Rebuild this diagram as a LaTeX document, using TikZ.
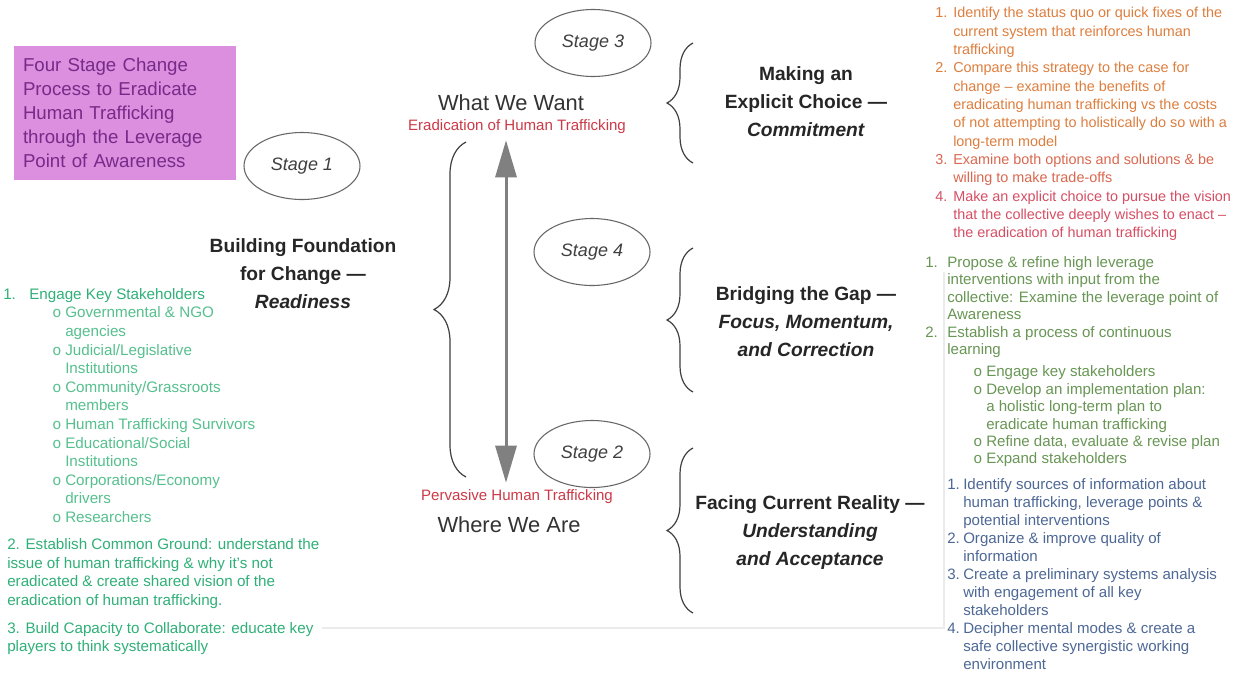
\documentclass[tikz,border=0pt]{standalone}
\usepackage{fontspec}
\setmainfont{Liberation Sans}
\newfontfamily\bulletfont{Liberation Mono}
\usetikzlibrary{shapes,arrows.meta,decorations.pathreplacing}
\definecolor{titlefill}{RGB}{219,143,222}
\definecolor{titletext}{RGB}{120,42,138}
\definecolor{headtext}{RGB}{38,38,38}
\definecolor{redlabel}{RGB}{204,58,72}
\definecolor{readygreen}{RGB}{48,176,120}
\definecolor{readysub}{RGB}{86,192,142}
\definecolor{commitorange}{RGB}{222,126,62}
\definecolor{commitred}{RGB}{214,78,100}
\definecolor{gapgreen}{RGB}{104,150,84}
\definecolor{realityblue}{RGB}{78,104,150}
\newcommand{\subbul}[1]{\hspace*{#1}\makebox[9.75pt][l]{\bulletfont o}}

\begin{document}
\begin{tikzpicture}[x=0.75pt,y=-0.75pt]
    \tikzstyle{titlebox} = [rectangle, fill=titlefill, text=titletext, minimum width=166.5pt, minimum height=100.5pt, text width=153pt, inner xsep=6.75pt, align=left, font=\fontsize{14}{18}\selectfont]
    \tikzstyle{stagebubble} = [ellipse, draw=black!60, line width=0.8pt, minimum width=87pt, minimum height=50.25pt, inner sep=0pt, text=black!75, font=\fontsize{13.5}{16}\itshape\selectfont]
    \tikzstyle{stagehead} = [align=center, text=headtext, font=\fontsize{14.4}{21}\bfseries\selectfont]
    \tikzstyle{poletext} = [text=black!80, inner sep=0pt, font=\fontsize{16.4}{20}\selectfont]
    \tikzstyle{poletag} = [text=redlabel, inner sep=0pt, font=\fontsize{11.3}{13}\selectfont]
    \tikzstyle{itemlist} = [anchor=north west, align=left, inner sep=0pt]
    \tikzstyle{updown} = [draw=black!50, line width=2.25pt, {Triangle[length=27.75pt,width=15.75pt]}-{Triangle[length=27.75pt,width=15.75pt]}, shorten <=5.25pt, shorten >=4.5pt]
    \tikzstyle{bigbrace} = [draw=black!75, line width=0.9pt, decorate, decoration={brace, amplitude=24pt}]
    \tikzstyle{smallbrace} = [draw=black!75, line width=0.9pt, decorate, decoration={brace, amplitude=19.5pt}]

    \fill[white] (0,0) rectangle (1234,689);
    \useasboundingbox (0,0) rectangle (1234,689);
    \draw[black!8, line width=0.8pt] (322,628) -- (944,628) -- (944,272);

    \node[titlebox] (title) at (125,113) {Four Stage Change\\Process to Eradicate\\Human Trafficking\\through the Leverage\\Point of Awareness};

    \node[stagebubble] (s1) at (302,166) {Stage 1};
    \node[stagebubble] (s3) at (593,43) {Stage 3};
    \node[stagebubble] (s4) at (592,252) {Stage 4};
    \node[stagebubble] (s2) at (592,454) {Stage 2};

    \node[stagehead] (readiness) at (303,274) {Building Foundation\\for Change —\\\textit{Readiness}};
    \node[stagehead] (commitment) at (806,102) {Making an\\Explicit Choice —\\\textit{Commitment}};
    \node[stagehead] (correction) at (806,322) {Bridging the Gap —\\\textit{Focus, Momentum,}\\\textit{and Correction}};
    \node[stagehead] (acceptance) at (810,533) {Facing Current Reality —\\\textit{Understanding}\\\textit{and Acceptance}};

    \node[poletext] (want) at (511,103) {What We Want};
    \node[poletag] (erad) at (517,127) {Eradication of Human Trafficking};
    \node[poletag] (perv) at (517,497) {Pervasive Human Trafficking};
    \node[poletext] (where) at (509,525) {Where We Are};

    \coordinate (axis) at (506,0);
    \draw[updown] (perv.north -| axis) -- (erad.south -| axis);

    \coordinate (b1low) at (466,477);
    \coordinate (b1high) at (466,142);
    \coordinate (b3low) at (693,163);
    \coordinate (b3high) at (693,43);
    \coordinate (b4low) at (693,392);
    \coordinate (b4high) at (693,248);
    \coordinate (b2low) at (693,613);
    \coordinate (b2high) at (693,448);
    \draw[bigbrace] (b1low) -- (b1high);
    \draw[smallbrace] (b3low) -- (b3high);
    \draw[smallbrace] (b4low) -- (b4high);
    \draw[smallbrace] (b2low) -- (b2high);

    \node[itemlist, text=readygreen, font=\fontsize{11.4}{13.95}\selectfont] (readylist) at (3,288) {%
        \makebox[19.5pt][l]{1.}Engage Key Stakeholders\\
        {\color{readysub}\subbul{36.75pt}Governmental \& NGO}\\
        {\color{readysub}\hspace*{46.5pt}agencies}\\
        {\color{readysub}\subbul{36.75pt}Judicial/Legislative}\\
        {\color{readysub}\hspace*{46.5pt}Institutions}\\
        {\color{readysub}\subbul{36.75pt}Community/Grassroots}\\
        {\color{readysub}\hspace*{46.5pt}members}\\
        {\color{readysub}\subbul{36.75pt}Human Trafficking Survivors}\\
        {\color{readysub}\subbul{36.75pt}Educational/Social}\\
        {\color{readysub}\hspace*{46.5pt}Institutions}\\
        {\color{readysub}\subbul{36.75pt}Corporations/Economy}\\
        {\color{readysub}\hspace*{46.5pt}drivers}\\
        {\color{readysub}\subbul{36.75pt}Researchers}\\[6.3pt]
        \hspace*{3pt}2. Establish Common Ground: understand the\\
        \hspace*{3pt}issue of human trafficking \& why it's not\\
        \hspace*{3pt}eradicated \& create shared vision of the\\
        \hspace*{3pt}eradication of human trafficking.\\[7pt]
        \hspace*{3pt}3. Build Capacity to Collaborate: educate key\\
        \hspace*{3pt}players to think systematically};

    \node[itemlist, text=commitorange, font=\fontsize{10.8}{13.75}\selectfont] (commitlist) at (935,7) {%
        \makebox[13.5pt][l]{1.}Identify the status quo or quick fixes of the\\
        \hspace*{13.5pt}current system that reinforces human\\
        \hspace*{13.5pt}trafficking\\
        \makebox[13.5pt][l]{2.}Compare this strategy to the case for\\
        \hspace*{13.5pt}change – examine the benefits of\\
        \hspace*{13.5pt}eradicating human trafficking vs the costs\\
        \hspace*{13.5pt}of not attempting to holistically do so with a\\
        \hspace*{13.5pt}long-term model\\
        {\color{commitorange!55!commitred}\makebox[13.5pt][l]{3.}Examine both options and solutions \& be}\\
        {\color{commitorange!55!commitred}\hspace*{13.5pt}willing to make trade-offs}\\
        {\color{commitred}\makebox[13.5pt][l]{4.}Make an explicit choice to pursue the vision}\\
        {\color{commitred}\hspace*{13.5pt}that the collective deeply wishes to enact –}\\
        {\color{commitred}\hspace*{13.5pt}the eradication of human trafficking}};

    \node[itemlist, text=gapgreen, font=\fontsize{11.3}{13.1}\selectfont] (gaplist) at (925,256) {%
        \makebox[16.5pt][l]{1.}Propose \& refine high leverage\\
        \hspace*{16.5pt}interventions with input from the\\
        \hspace*{16.5pt}collective: Examine the leverage point of\\
        \hspace*{16.5pt}Awareness\\
        \makebox[16.5pt][l]{2.}Establish a process of continuous\\
        \hspace*{16.5pt}learning\\[3.5pt]
        \subbul{36pt}Engage key stakeholders\\
        \subbul{36pt}Develop an implementation plan:\\
        \hspace*{45.75pt}a holistic long-term plan to\\
        \hspace*{45.75pt}eradicate human trafficking\\
        \subbul{36pt}Refine data, evaluate \& revise plan\\
        \subbul{36pt}Expand stakeholders};

    \node[itemlist, text=realityblue, font=\fontsize{11.3}{13.5}\selectfont] (realitylist) at (947,478) {%
        \makebox[12pt][l]{1.}Identify sources of information about\\
        \hspace*{12pt}human trafficking, leverage points \&\\
        \hspace*{12pt}potential interventions\\
        \makebox[12pt][l]{2.}Organize \& improve quality of\\
        \hspace*{12pt}information\\
        \makebox[12pt][l]{3.}Create a preliminary systems analysis\\
        \hspace*{12pt}with engagement of all key\\
        \hspace*{12pt}stakeholders\\
        \makebox[12pt][l]{4.}Decipher mental modes \& create a\\
        \hspace*{12pt}safe collective synergistic working\\
        \hspace*{12pt}environment};
\end{tikzpicture}
\end{document}
